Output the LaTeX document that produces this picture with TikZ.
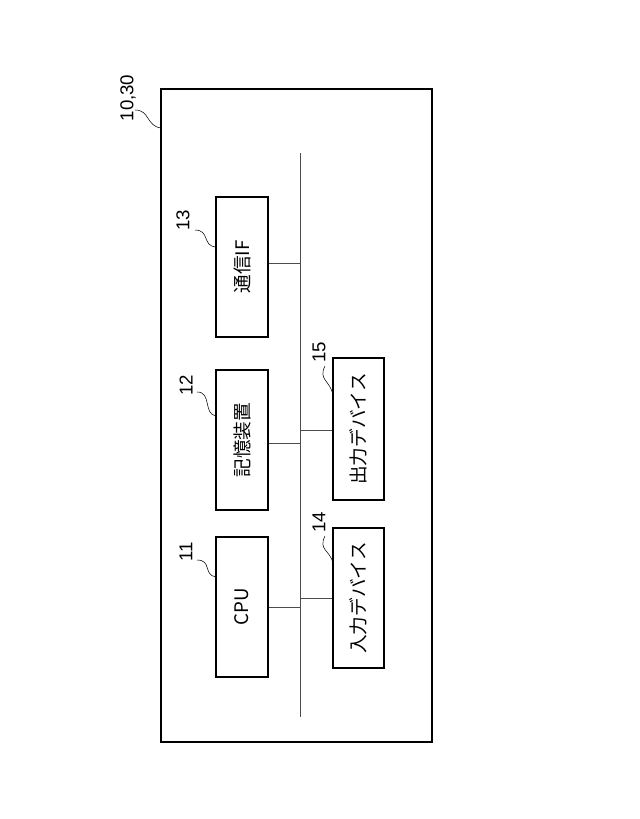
\documentclass[tikz,border=0pt]{standalone}
\usepackage{fontspec}
\setmainfont{Liberation Sans}
\newfontfamily\cjk{Noto Sans CJK JP}
\begin{document}
\begin{tikzpicture}[x=0.75pt,y=-0.75pt,
  blk/.style={draw,line width=0.9pt,minimum width=39pt,minimum height=105pt,inner sep=0pt,font=\cjk\fontsize{14}{16}\selectfont,rotate=90,anchor=center},
  lbl/.style={font=\fontsize{14}{16}\selectfont,rotate=90},
  lead/.style={line width=0.4pt},
  bus/.style={line width=0.6pt,draw=black!70}]
\useasboundingbox (0,0) rectangle (640,819);
\draw[line width=1.2pt] (161,89) rectangle (432,742);
\coordinate (bt) at (300,153); \coordinate (bb) at (300,717);
\draw[bus] (bt) -- (bb);
\node[blk,minimum width=140*0.75pt,minimum height=52*0.75pt] (n13) at (242,267) {通信IF};
\node[blk,minimum width=140*0.75pt,minimum height=52*0.75pt] (n12) at (242,440) {記憶装置};
\node[blk,minimum width=140*0.75pt,minimum height=52*0.75pt] (n11) at (242,607) {CPU};
\node[blk,minimum width=142*0.75pt,minimum height=51*0.75pt] (n15) at (358.5,429) {出力デバイス};
\node[blk,minimum width=140*0.75pt,minimum height=51*0.75pt] (n14) at (358.5,598) {入力デバイス};
\coordinate (j13) at (300,263); \coordinate (j12) at (300,443); \coordinate (j11) at (300,607);
\coordinate (j15) at (300,430); \coordinate (j14) at (300,598);
\draw[bus] (n13.south|-j13) -- (j13);
\draw[bus] (n12.south|-j12) -- (j12);
\draw[bus] (n11.south|-j11) -- (j11);
\draw[bus] (j15) -- (n15.north|-j15);
\draw[bus] (j14) -- (n14.north|-j14);
\node[lbl] (l10) at (128,98) {10,30};
\node[lbl] (l13) at (183,220) {13};
\node[lbl] (l12) at (186,385) {12};
\node[lbl] (l11) at (186,552) {11};
\node[lbl] (l15) at (319,352) {15};
\node[lbl] (l14) at (319,522) {14};
\draw[lead] (135,110) .. controls (150,110) and (146,126) .. (161,128);
\draw[lead] (195,230) .. controls (210,230) and (202,246) .. (216,247);
\draw[lead] (197,392) .. controls (212,392) and (203,414) .. (216,416);
\draw[lead] (197,560) .. controls (212,560) and (203,575) .. (216,577);
\draw[lead] (325,366) .. controls (318,380) and (330,380) .. (333,395);
\draw[lead] (325,536) .. controls (318,550) and (330,550) .. (333,563);
\end{tikzpicture}
\end{document}
